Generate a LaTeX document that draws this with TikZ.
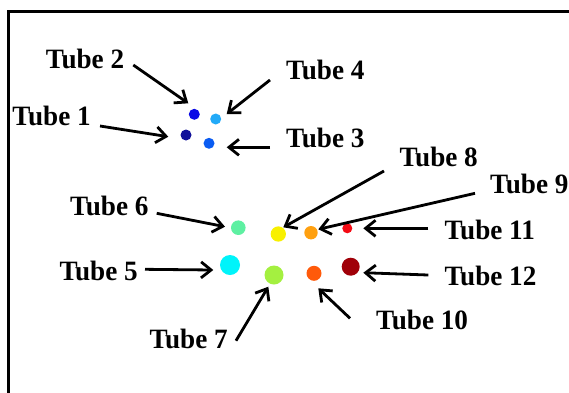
\documentclass[tikz,border=0pt]{standalone}
\usepackage{fontspec}
\setmainfont{Liberation Serif}[FakeStretch=0.97]
\usetikzlibrary{arrows.meta}
\definecolor{cA}{HTML}{10109A}
\definecolor{cB}{HTML}{0A0AE6}
\definecolor{cC}{HTML}{0A5CF2}
\definecolor{cD}{HTML}{22AAF8}
\definecolor{cE}{HTML}{00F4FA}
\definecolor{cF}{HTML}{5EF0A2}
\definecolor{cG}{HTML}{A4F040}
\definecolor{cH}{HTML}{F8F000}
\definecolor{cI}{HTML}{FFA010}
\definecolor{cJ}{HTML}{FF5A0A}
\definecolor{cK}{HTML}{F40A14}
\definecolor{cL}{HTML}{A00008}
\begin{document}
\begin{tikzpicture}[x=1pt,y=-1pt,
  lbl/.style={font=\bfseries\fontsize{28}{32}\selectfont, anchor=base west, inner sep=0pt},
  dot/.style={circle, inner sep=0pt, minimum size=#1},
  ptr/.style={line width=2.8pt, -{Straight Barb[length=10pt,width=16pt]}},
]
\useasboundingbox (0,0) rectangle (569,392);
\clip (0,0) rectangle (569,392);
\fill[white] (0,0) rectangle (569,392);

% open frame: top and left edges
\draw[line width=2.6pt] (8.7,400) -- (8.7,11.2) -- (580,11.2);

% tube cross-sections
\node[dot=11pt, fill=cA] (d1)  at (186,135) {};
\node[dot=11pt, fill=cB] (d2)  at (194.3,114.3) {};
\node[dot=11pt, fill=cC] (d3)  at (209,143.3) {};
\node[dot=11pt, fill=cD] (d4)  at (215.7,119) {};
\node[dot=20pt, fill=cE] (d5)  at (230,265) {};
\node[dot=14.6pt, fill=cF] (d6)  at (238.3,227.7) {};
\node[dot=19pt, fill=cG] (d7)  at (274,275) {};
\node[dot=15.3pt, fill=cH] (d8)  at (278.3,234) {};
\node[dot=13.4pt, fill=cI] (d9)  at (311,232.7) {};
\node[dot=15pt, fill=cJ] (d10) at (314,273.3) {};
\node[dot=10pt, fill=cK] (d11) at (347.3,228.3) {};
\node[dot=18pt, fill=cL] (d12) at (350.7,266.7) {};

% labels
\node[lbl] (l1)  at (12.3,125.7) {Tube 1};
\node[lbl] (l2)  at (45.7,68.5)  {Tube 2};
\node[lbl] (l3)  at (286,147.7)  {Tube 3};
\node[lbl] (l4)  at (286,79.3)   {Tube 4};
\node[lbl] (l5)  at (59.3,280)   {Tube 5};
\node[lbl] (l6)  at (70,215.3)   {Tube 6};
\node[lbl] (l7)  at (149.3,348.3) {Tube 7};
\node[lbl] (l8)  at (399.3,166.7) {Tube 8};
\node[lbl] (l9)  at (490,193.3)  {Tube 9};
\node[lbl] (l10) at (376,329)    {Tube 10};
\node[lbl] (l11) at (444.3,239)  {Tube 11};
\node[lbl] (l12) at (444.3,285)  {Tube 12};

% arrow ends
\coordinate (t1) at (100,126);     \coordinate (h1) at (168.3,136.7);
\coordinate (t2) at (133.3,65);    \coordinate (h2) at (188.3,103.3);
\coordinate (t3) at (270,147.3);   \coordinate (h3) at (226.7,147.3);
\coordinate (t4) at (270,80);      \coordinate (h4) at (226.7,114);
\coordinate (t5) at (145,269.3);   \coordinate (h5) at (213.3,270);
\coordinate (t6) at (156.7,213.3); \coordinate (h6) at (225,226.7);
\coordinate (t7) at (236,340.7);   \coordinate (h7) at (268.3,286.7);
\coordinate (t8) at (384,171);     \coordinate (h8) at (283.3,227.3);
\coordinate (t9) at (475,193.3);   \coordinate (h9) at (318.3,229.3);
\coordinate (t10) at (350,318.3);  \coordinate (h10) at (318.3,288.3);
\coordinate (t11) at (428.3,228.3); \coordinate (h11) at (363.3,228.3);
\coordinate (t12) at (428.3,275);  \coordinate (h12) at (363.3,272.7);

\foreach \i in {1,...,12} {
  \draw[ptr] (t\i) -- (h\i);
}
\end{tikzpicture}
\end{document}
